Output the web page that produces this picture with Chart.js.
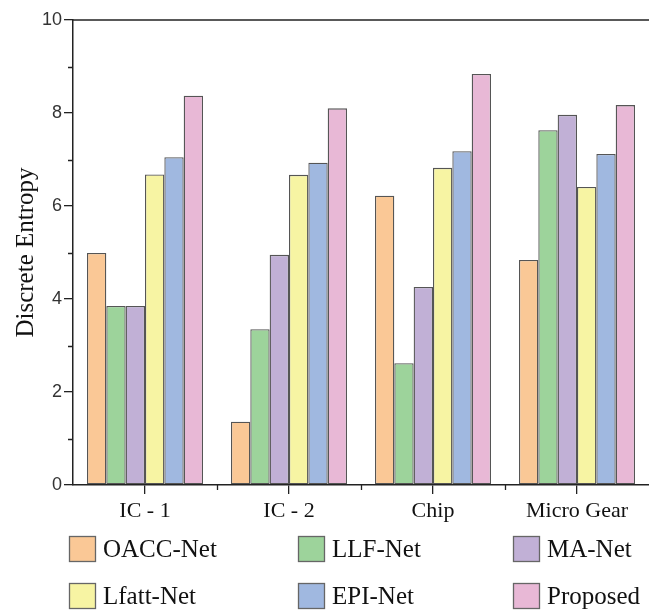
<!DOCTYPE html>
<html>
<head>
<meta charset="utf-8">
<script src="https://cdn.jsdelivr.net/npm/chart.js@4.4.1/dist/chart.umd.min.js"></script>
<style>
  body { margin: 0; background: #fff; }
  #wrap { width: 649px; height: 614px; }
</style>
</head>
<body>
<div id="wrap"><canvas id="entropyChart"></canvas></div>
<script>
// categories and series
const categories = ['IC - 1', 'IC - 2', 'Chip', 'Micro Gear'];
const seriesNames = ['OACC-Net', 'LLF-Net', 'MA-Net', 'Lfatt-Net', 'EPI-Net', 'Proposed'];

const oaccNet  = [4.99, 1.36, 6.22, 4.84];
const llfNet   = [3.85, 3.35, 2.62, 7.63];
const maNet    = [3.85, 4.95, 4.26, 7.96];
const lfattNet = [6.68, 6.67, 6.82, 6.41];
const epiNet   = [7.05, 6.93, 7.18, 7.12];
const proposed = [8.37, 8.10, 8.84, 8.17];

const yMin = 0, yMax = 10, yStep = 2;

const colors = ['#fac896', '#9dd39b', '#c1b0d6', '#f7f4a3', '#a0b8e0', '#e8b8d6'];
const seriesValues = [oaccNet, llfNet, maNet, lfattNet, epiNet, proposed];

const data = {
  labels: categories,
  datasets: seriesNames.map((name, i) => ({
    label: name,
    data: seriesValues[i],
    backgroundColor: colors[i],
    borderColor: '#555',
    borderWidth: 1.3,
    borderSkipped: false,
    barPercentage: 1,
    categoryPercentage: 0.806
  }))
};

// frame top line, minor ticks and the 3-column legend
const extras = {
  id: 'extras',
  afterDraw(chart) {
    const ctx = chart.ctx;
    const a = chart.chartArea;
    const x = chart.scales.x, y = chart.scales.y;
    ctx.save();
    ctx.strokeStyle = '#222';
    ctx.lineWidth = 1.5;
    ctx.beginPath();
    ctx.moveTo(a.left, a.top);
    ctx.lineTo(a.right, a.top);
    ctx.stroke();

    ctx.lineWidth = 1.3;
    ctx.beginPath();
    for (let v = yMin + 1; v < yMax; v += 2) {
      const py = Math.round(y.getPixelForValue(v)) + 0.5;
      ctx.moveTo(a.left - 5, py);
      ctx.lineTo(a.left, py);
    }
    for (let i = 0; i < categories.length - 1; i++) {
      const px = Math.round((x.getPixelForValue(i) + x.getPixelForValue(i + 1)) / 2) + 0.5;
      ctx.moveTo(px, a.bottom);
      ctx.lineTo(px, a.bottom + 5);
    }
    ctx.stroke();

    const colX = [69, 298, 513];
    const rowY = [549, 596];
    ctx.font = '25px "Liberation Serif", "Times New Roman", serif';
    ctx.textBaseline = 'middle';
    ctx.textAlign = 'left';
    chart.data.datasets.forEach((ds, i) => {
      const bx = colX[i % 3], cy = rowY[Math.floor(i / 3)];
      ctx.fillStyle = ds.backgroundColor;
      ctx.fillRect(bx, cy - 13, 27, 26);
      ctx.strokeStyle = '#666';
      ctx.lineWidth = 1.3;
      ctx.strokeRect(bx + 0.5, cy - 12.5, 26, 25);
      ctx.fillStyle = '#111';
      ctx.fillText(ds.label, bx + 34, cy + 1);
    });
    ctx.restore();
  }
};

const config = {
  type: 'bar',
  data,
  options: {
    responsive: true,
    maintainAspectRatio: false,
    animation: false,
    layout: { padding: { top: 20, right: 0, left: 0, bottom: 0 } },
    plugins: {
      legend: { display: false },
      tooltip: { enabled: false }
    },
    scales: {
      x: {
        grid: { display: true, drawOnChartArea: false, offset: false, tickLength: 9, color: '#222', lineWidth: 1.3 },
        border: { display: true, color: '#222', width: 1.5 },
        ticks: { color: '#111', padding: 4, font: { family: '"Liberation Serif", "Times New Roman", serif', size: 22 } },
        afterFit(s) { s.height = 129; }
      },
      y: {
        min: yMin,
        max: yMax,
        grid: { display: true, drawOnChartArea: false, tickLength: 9, color: '#222', lineWidth: 1.3 },
        border: { display: true, color: '#222', width: 1.5 },
        ticks: { stepSize: yStep, color: '#333', padding: 2, font: { family: '"Liberation Sans", Arial, sans-serif', size: 18 } },
        title: {
          display: true,
          text: 'Discrete Entropy',
          color: '#111',
          padding: { top: 11, bottom: 0 },
          font: { family: '"Liberation Serif", "Times New Roman", serif', size: 25 }
        },
        afterFit(s) { s.width = 73; }
      }
    }
  },
  plugins: [extras]
};

const entropyChart = new Chart(document.getElementById('entropyChart'), config);
</script>
</body>
</html>
